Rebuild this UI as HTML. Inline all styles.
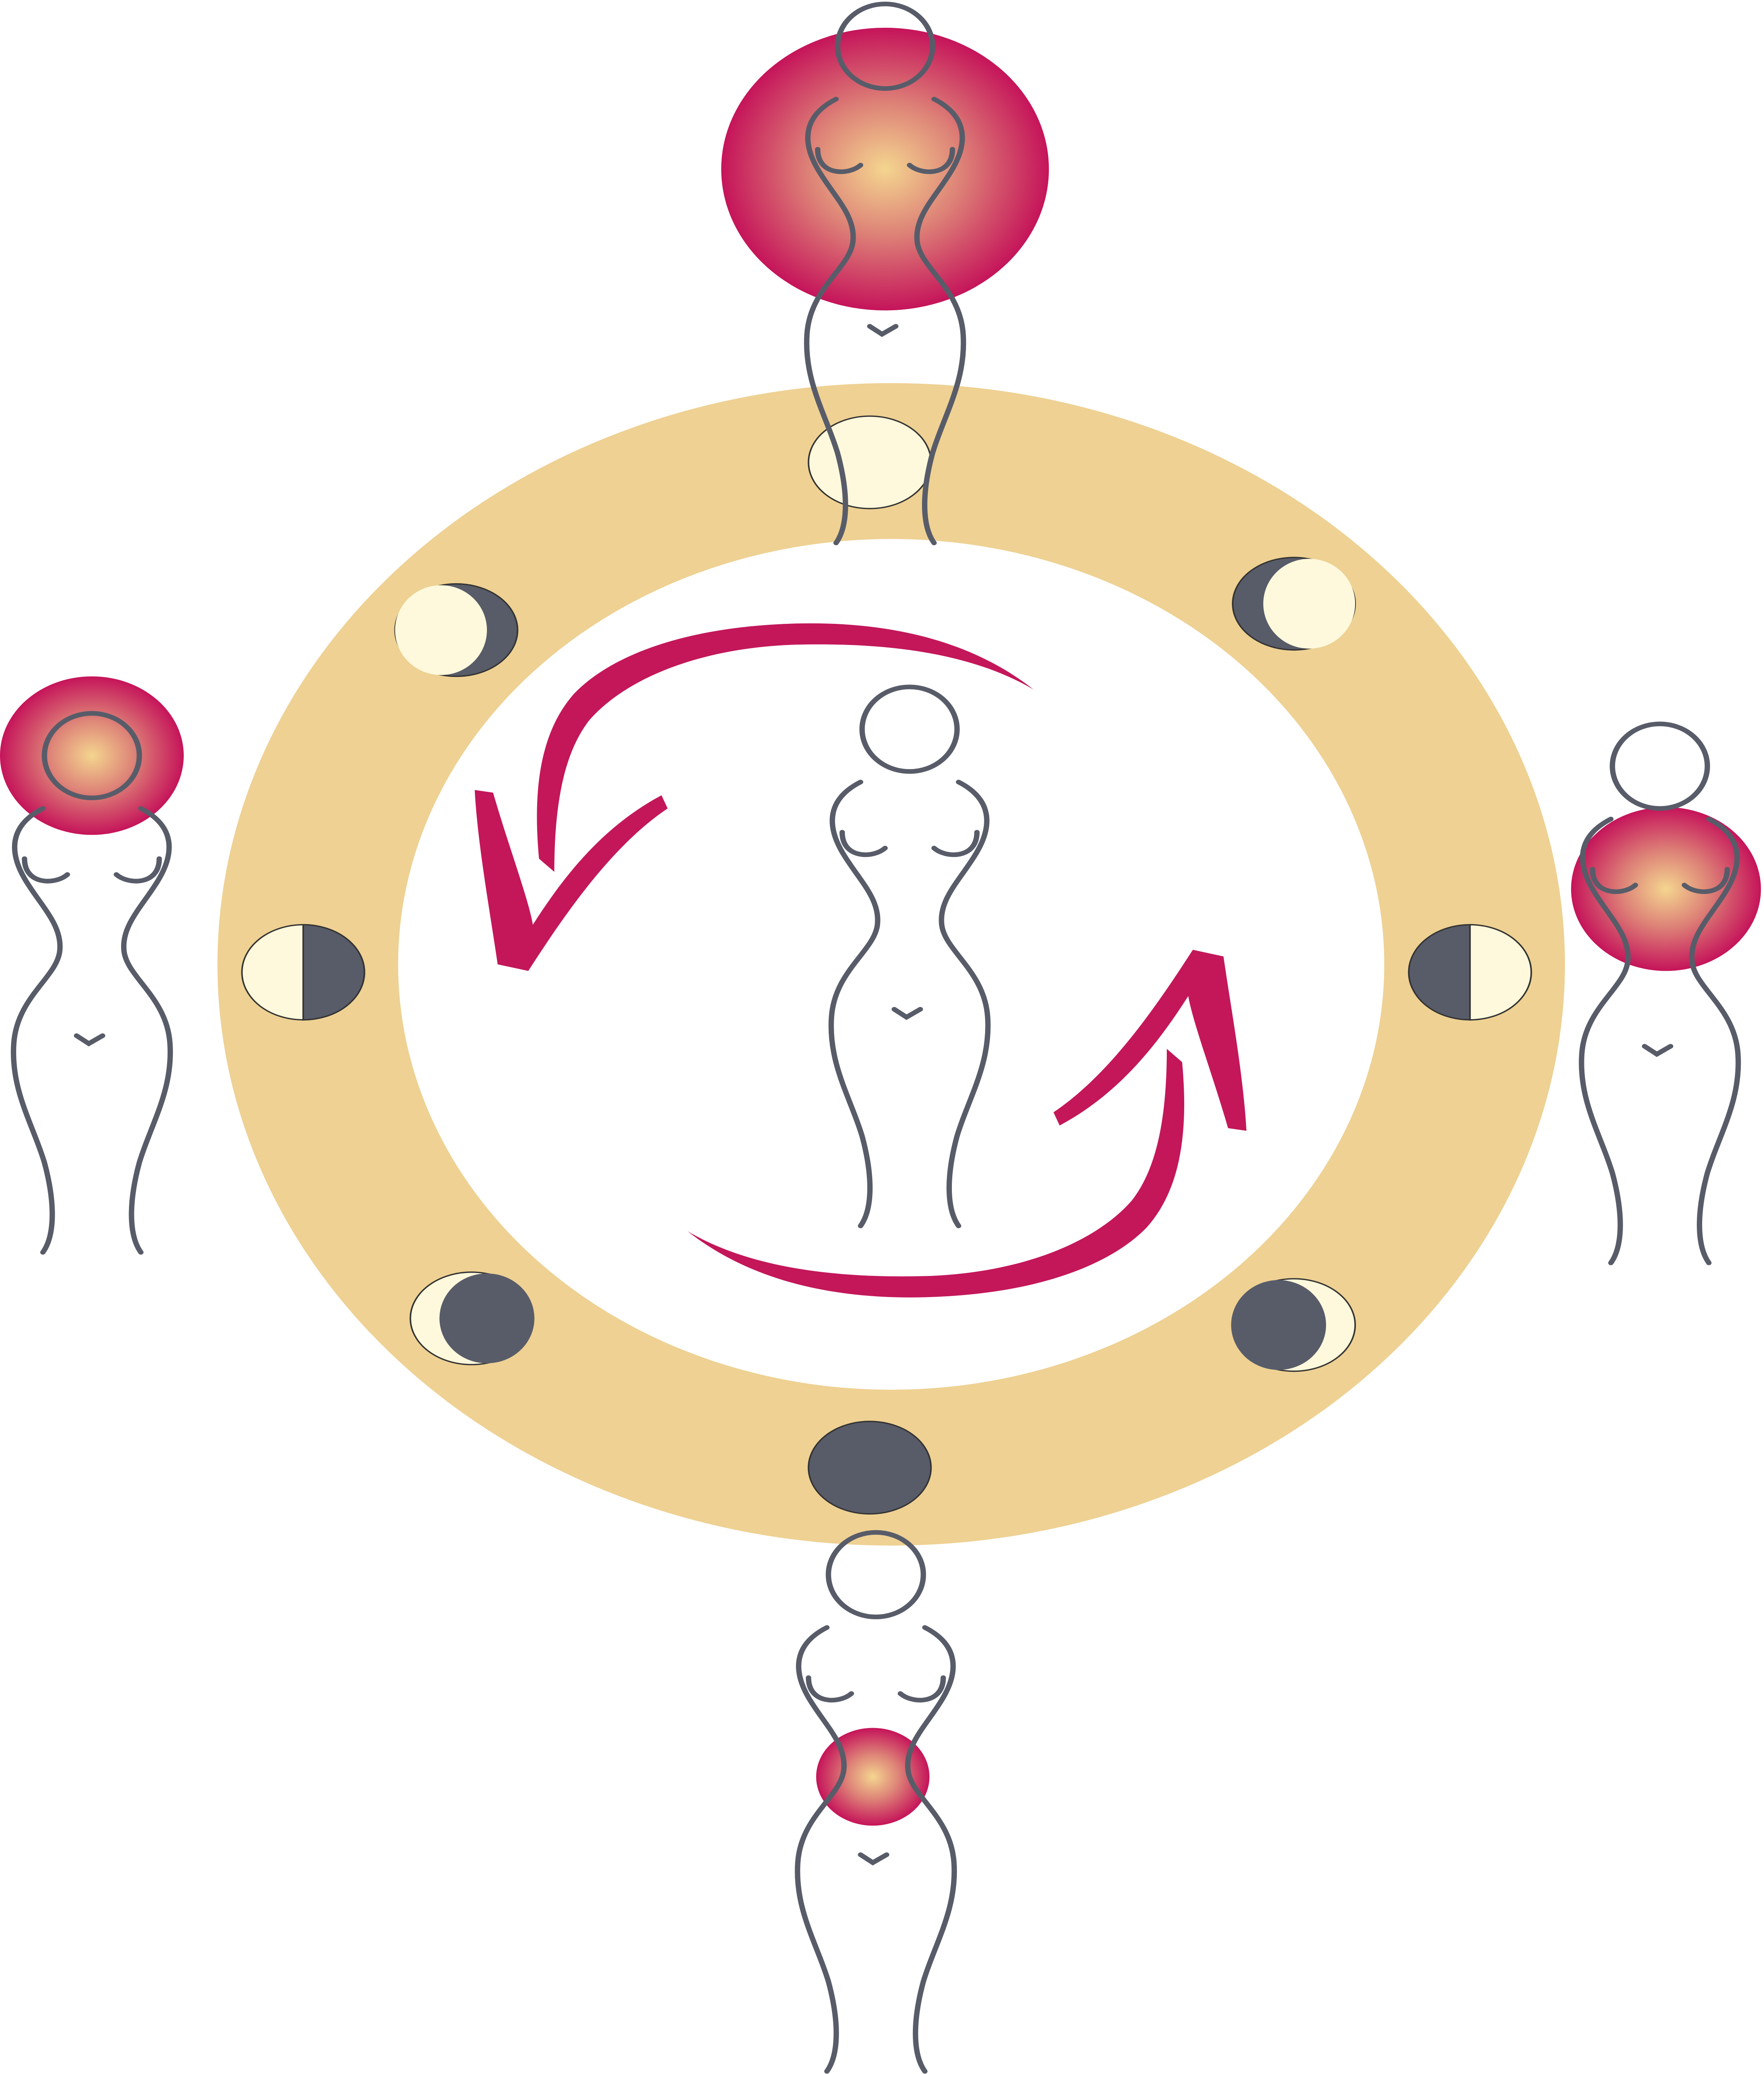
<!DOCTYPE html>
<html><head><meta charset="utf-8"><style>
html,body{margin:0;padding:0;background:#fff;width:100%;height:100%;overflow:hidden;}
svg{display:block;position:fixed;left:0;top:0;width:100vw;height:100vh;}
</style></head><body>
<svg viewBox="0 0 1152 1570" preserveAspectRatio="none" xmlns="http://www.w3.org/2000/svg">
<defs>
<radialGradient id="rg" cx="50%" cy="50%" r="50%">
<stop offset="0" stop-color="#F4D58F"/>
<stop offset="0.45" stop-color="#DE8578"/>
<stop offset="1" stop-color="#C5145A"/>
</radialGradient>
<g id="fig" fill="none" stroke="#585C69" stroke-width="3.5" stroke-linecap="round">
<ellipse cx="594" cy="552" rx="31" ry="32"/>
<path d="M562,592 C540,605 540,625 550,645 C560,665 575,680 573,700 C571,720 545,735 543,770 C541,805 555,830 563,860 C570,890 570,915 562,928"/>
<path d="M626,592 C648,605 648,625 638,645 C628,665 613,680 615,700 C617,720 643,735 645,770 C647,805 633,830 625,860 C618,890 618,915 626,928"/>
<path d="M550,630 C550,650 570,650 578,642"/>
<path d="M610,642 C618,650 638,650 638,630"/>
<path d="M584,764 l8,6 l9,-6"/>
</g>
<g id="arr" fill="#C3175A">
<path d="M675,522 C640,490 590,470 520,472 C450,474 400,495 375,525 C352,555 348,600 352,650 L362,660 C362,610 368,570 385,545 C410,512 460,490 520,488 C590,486 640,498 675,522 Z"/>
<path d="M310,598 L322,600 C332,640 345,680 348,700 C370,660 395,625 432,602 L436,612 C400,640 370,690 345,735 L325,730 C320,690 312,640 310,598 Z"/>
</g>
</defs>
<rect width="1152" height="1570" fill="#fff"/>
<circle cx="582" cy="730" r="381" fill="none" stroke="#EED193" stroke-width="118"/>
<g stroke="#333" stroke-width="1">
<ellipse cx="568" cy="350" rx="40" ry="35" fill="#FEF9DC"/>
<ellipse cx="845" cy="457" rx="40" ry="35" fill="#585C69"/>
<ellipse cx="855" cy="457" rx="30" ry="34" fill="#FEF9DC" stroke="none"/>
<ellipse cx="298" cy="477" rx="40" ry="35" fill="#585C69"/>
<ellipse cx="288" cy="477" rx="30" ry="34" fill="#FEF9DC" stroke="none"/>
<ellipse cx="198" cy="736" rx="40" ry="36" fill="#FEF9DC"/>
<path d="M198,700 A40,36 0 0 1 198,772 Z" fill="#585C69"/>
<ellipse cx="960" cy="736" rx="40" ry="36" fill="#585C69"/>
<path d="M960,700 A40,36 0 0 1 960,772 Z" fill="#FEF9DC"/>
<ellipse cx="308" cy="998" rx="40" ry="35" fill="#FEF9DC"/>
<ellipse cx="318" cy="998" rx="31" ry="34" fill="#585C69" stroke="none"/>
<ellipse cx="845" cy="1003" rx="40" ry="35" fill="#FEF9DC"/>
<ellipse cx="835" cy="1003" rx="31" ry="34" fill="#585C69" stroke="none"/>
<ellipse cx="568" cy="1111" rx="40" ry="35" fill="#585C69"/>
</g>
<circle cx="578" cy="128" r="107" fill="url(#rg)"/>
<circle cx="60" cy="572" r="60" fill="url(#rg)"/>
<circle cx="1088" cy="673" r="62" fill="url(#rg)"/>
<circle cx="570" cy="1345" r="37" fill="url(#rg)"/>
<use href="#fig"/>
<use href="#fig" transform="translate(-16,-517)"/>
<use href="#fig" transform="translate(-534,20)"/>
<use href="#fig" transform="translate(490,28)"/>
<use href="#fig" transform="translate(-22,640)"/>
<use href="#arr"/>
<use href="#arr" transform="rotate(180 562 727)"/>
</svg>
</body></html>
